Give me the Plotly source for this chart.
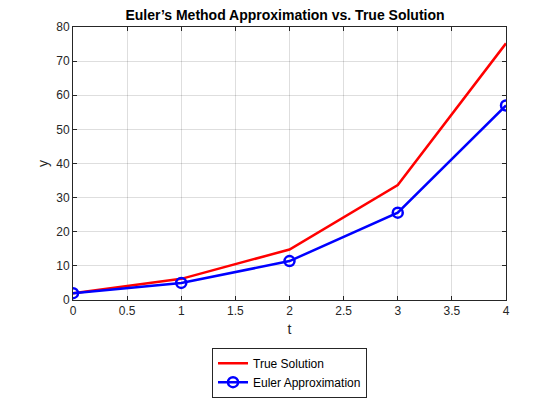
import plotly.graph_objects as go

t = [0, 1, 2, 3, 4]
y_true = [2.0, 6.2, 14.8, 33.7, 75.2]
y_euler = [2.0, 5.0, 11.4, 25.6, 57.0]
x_ticks = [0, 0.5, 1, 1.5, 2, 2.5, 3, 3.5, 4]
y_ticks = [0, 10, 20, 30, 40, 50, 60, 70, 80]

fig = go.Figure()
fig.add_trace(go.Scatter(x=t, y=y_true, mode="lines", name="True Solution",
                         line=dict(color="#ff0000", width=2.5)))
fig.add_trace(go.Scatter(x=t, y=y_euler, mode="lines+markers", name="Euler Approximation",
                         line=dict(color="#0000ff", width=2.5),
                         marker=dict(symbol="circle-open", size=10, color="#0000ff",
                                     line=dict(width=2.5, color="#0000ff"))))

axis_common = dict(showline=True, mirror="ticks", linecolor="#262626", linewidth=1,
                   ticks="inside", ticklen=4, tickcolor="#262626",
                   showgrid=True, gridcolor="rgba(0,0,0,0.13)", gridwidth=1,
                   zeroline=False, tickfont=dict(size=12, color="#262626"),
                   title_font=dict(size=14, color="#262626"))

fig.update_xaxes(range=[0, 4], tickvals=x_ticks, ticktext=[f"{v:g}" for v in x_ticks],
                 title_text="t", title_standoff=6, **axis_common)
fig.update_yaxes(range=[0, 80], tickvals=y_ticks, title_text="y", title_standoff=4,
                 **axis_common)

fig.update_layout(
    width=560, height=420,
    margin=dict(l=65, r=62, t=17, b=128),
    paper_bgcolor="white", plot_bgcolor="white",
    font=dict(family="Liberation Sans, Arial, sans-serif", color="#262626"),
    title=dict(text="<b>Euler’s Method Approximation vs. True Solution</b>",
               x=0.4946, xanchor="center", y=1 - 7/420, yanchor="middle",
               yref="container", font=dict(size=14, color="black")),
    legend=dict(x=0.5, xanchor="center", y=-0.1745, yanchor="top",
                bordercolor="#262626", borderwidth=1, bgcolor="white",
                font=dict(size=12, color="black"), tracegroupgap=0,
                itemwidth=30),
    showlegend=True,
)

fig.write_html("out.html")
